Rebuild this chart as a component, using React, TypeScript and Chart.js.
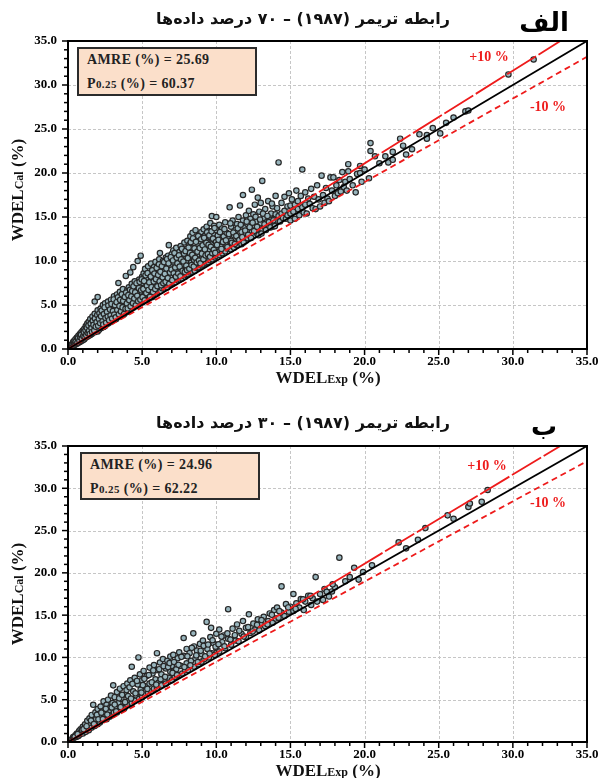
import React, { useEffect, useRef } from "react";
import { Chart, registerables } from "chart.js";

Chart.register(...registerables);

// Axis range shared by both panels (WDEL, %)
const AXIS_MIN = 0;
const AXIS_MAX = 35;
const MAJOR_STEP = 5;
const MINOR_STEP = 1;

// Reference lines: 1:1 line and the upper / lower error band
const identityLine: [number, number][] = [[0, 0], [35, 35]];
const upperLine: [number, number][] = [[0, 0], [33.2, 35]];
const lowerLine: [number, number][] = [[0, 0], [35, 33.2]];

// Panel titles and statistics
const titleA = "رابطه تریمر (۱۹۸۷) – ۷۰ درصد داده‌ها";
const titleB = "رابطه تریمر (۱۹۸۷) – ۳۰ درصد داده‌ها";
const panelLabelA = "الف";
const panelLabelB = "ب";
const amreA = "25.69";
const p25A = "60.37";
const amreB = "24.96";
const p25B = "62.22";

// Training subset (70 %): [WDEL_Exp, WDEL_Cal]
const pointsA: [number, number][] = [
  [0.1,0.1],[0.15,0.3],[0.2,0.2],[0.25,0.5],[0.3,0.3],[0.3,0.6],[0.35,0.8],[0.4,0.4],[0.4,0.9],[0.45,0.6],[0.5,0.5],[0.5,1.1],[0.55,0.8],[0.6,0.6],[0.6,1.3],[0.65,1.0],[0.7,0.7],[0.7,1.5],[0.75,1.2],[0.8,0.8],[0.8,1.7],[0.85,1.1],[0.9,0.9],[0.9,1.9],[0.95,1.4],[1.0,1.0],[1.0,2.1],[1.0,1.6],
  [1.1,1.1],[1.1,2.3],[1.15,1.7],[1.2,1.3],[1.2,2.6],[1.25,2.0],[1.3,1.4],[1.3,2.9],[1.35,2.3],[1.4,1.5],[1.4,3.1],[1.45,1.9],[1.5,1.6],[1.5,2.6],[1.5,3.4],[1.55,2.2],[1.6,1.7],[1.6,3.0],[1.65,3.7],[1.7,1.9],[1.7,2.5],[1.75,3.3],[1.8,1.9],[1.8,4.0],[1.85,2.8],[1.9,2.1],[1.9,3.6],[1.95,2.4],[2.0,2.0],[2.0,4.4],[2.0,3.1],[1.8,5.4],[2.0,5.9],
  [2.1,2.2],[2.1,3.8],[2.15,2.7],[2.2,4.6],[2.2,3.3],[2.25,2.4],[2.3,4.1],[2.3,2.9],[2.35,5.0],[2.4,2.5],[2.4,3.6],[2.45,4.4],[2.5,2.6],[2.5,3.1],[2.5,5.2],[2.55,3.9],[2.6,2.8],[2.6,4.7],[2.65,3.4],[2.7,2.9],[2.7,5.4],[2.75,4.2],[2.8,3.0],[2.8,3.7],[2.85,4.9],[2.9,3.1],[2.9,5.6],[2.95,4.4],[3.0,3.2],[3.0,3.9],[3.0,5.1],
  [3.05,3.3],[3.1,4.6],[3.1,6.0],[3.15,3.6],[3.2,5.4],[3.2,4.1],[3.25,3.4],[3.3,6.2],[3.3,4.8],[3.35,3.8],[3.4,5.7],[3.4,7.5],[3.45,4.3],[3.5,3.7],[3.5,5.1],[3.5,6.5],[3.55,4.0],[3.6,5.9],[3.6,4.6],[3.65,3.9],[3.7,6.8],[3.7,5.3],[3.75,4.2],[3.8,4.0],[3.8,6.2],[3.85,4.9],[3.9,8.3],[3.9,5.6],[3.95,4.3],[4.0,4.2],[4.0,6.7],[4.0,5.0],
  [4.05,5.8],[4.1,4.4],[4.1,7.0],[4.15,5.3],[4.2,8.7],[4.2,4.5],[4.25,6.3],[4.3,7.4],[4.3,4.9],[4.35,5.6],[4.4,9.3],[4.4,4.7],[4.45,6.8],[4.5,5.2],[4.5,7.7],[4.55,6.1],[4.6,4.9],[4.6,7.2],[4.65,5.6],[4.7,10.0],[4.7,6.6],[4.75,5.1],[4.8,7.9],[4.8,6.0],[4.85,5.3],[4.9,10.6],[4.9,7.0],[4.95,5.7],[5.0,5.3],[5.0,8.2],[5.0,6.4],
  [5.05,7.5],[5.1,5.4],[5.1,8.6],[5.15,6.1],[5.2,7.0],[5.2,9.1],[5.25,5.7],[5.3,8.0],[5.3,6.5],[5.35,5.6],[5.4,9.4],[5.4,7.3],[5.45,6.0],[5.5,8.5],[5.5,5.8],[5.55,6.9],[5.6,9.7],[5.6,7.8],[5.65,6.2],[5.7,5.9],[5.7,8.8],[5.75,7.1],[5.8,9.3],[5.8,6.4],[5.85,8.1],[5.9,6.2],[5.9,9.9],[5.95,7.5],[6.0,6.3],[6.0,8.6],[6.0,7.0],
  [6.05,9.4],[6.1,6.5],[6.1,8.0],[6.15,10.2],[6.2,10.9],[6.2,7.3],[6.25,6.6],[6.3,9.0],[6.3,8.3],[6.35,6.9],[6.4,10.0],[6.4,7.6],[6.45,8.8],[6.5,6.9],[6.5,9.6],[6.55,7.9],[6.6,10.4],[6.6,7.2],[6.65,8.6],[6.7,7.0],[6.7,9.3],[6.75,10.6],[6.8,11.8],[6.8,7.8],[6.85,8.9],[6.9,7.3],[6.9,10.1],[6.95,9.5],[7.0,7.4],[7.0,8.3],[7.0,10.8],
  [7.05,9.0],[7.1,7.5],[7.1,11.2],[7.15,9.8],[7.2,8.0],[7.2,10.4],[7.25,7.6],[7.3,11.5],[7.3,8.8],[7.35,9.5],[7.4,7.8],[7.4,10.8],[7.45,8.3],[7.5,11.0],[7.5,9.9],[7.55,7.9],[7.6,9.1],[7.6,11.7],[7.65,8.5],[7.7,10.3],[7.7,8.0],[7.75,11.2],[7.8,9.6],[7.8,8.4],[7.85,12.1],[7.9,10.6],[7.9,8.2],[7.95,9.1],[8.0,8.4],[8.0,11.4],[8.0,10.0],
  [8.05,12.3],[8.1,8.5],[8.1,9.4],[8.15,10.7],[8.2,11.9],[8.2,8.7],[8.25,12.8],[8.3,9.8],[8.3,10.4],[8.35,8.8],[8.4,11.5],[8.4,13.2],[8.45,9.2],[8.5,12.3],[8.5,10.1],[8.55,8.9],[8.6,13.5],[8.6,11.1],[8.65,9.6],[8.7,12.6],[8.7,9.2],[8.75,10.6],[8.8,11.8],[8.8,9.3],[8.85,13.0],[8.9,10.2],[8.9,9.6],[8.95,12.2],[9.0,9.5],[9.0,11.1],[9.0,13.3],
  [9.05,10.4],[9.1,12.5],[9.1,9.6],[9.15,13.6],[9.2,11.6],[9.2,10.0],[9.25,12.9],[9.3,9.8],[9.3,11.0],[9.35,13.9],[9.4,10.3],[9.4,12.2],[9.45,9.9],[9.5,13.4],[9.5,11.3],[9.55,10.1],[9.6,12.7],[9.6,14.3],[9.65,10.6],[9.7,15.1],[9.7,11.9],[9.75,10.2],[9.8,13.1],[9.8,10.9],[9.85,14.0],[9.9,10.4],[9.9,12.3],[9.95,11.5],[10.0,15.0],[10.0,10.6],[10.0,13.5],
  [10.1,11.0],[10.1,12.9],[10.2,10.7],[10.2,14.1],[10.3,11.6],[10.3,12.4],[10.4,10.9],[10.4,13.7],[10.5,11.3],[10.5,12.8],[10.6,11.1],[10.6,14.4],[10.7,11.8],[10.7,13.2],[10.8,11.4],[10.8,12.5],[10.9,16.1],[10.9,11.7],[11.0,13.9],[11.0,11.3],[11.0,12.3],
  [11.1,11.7],[11.1,14.6],[11.2,12.9],[11.2,11.5],[11.3,13.5],[11.3,12.1],[11.4,11.8],[11.4,14.2],[11.5,12.6],[11.5,15.0],[11.6,16.3],[11.6,12.2],[11.7,13.3],[11.7,11.9],[11.8,17.5],[11.8,14.6],[11.9,12.5],[11.9,13.8],[12.0,12.3],[12.0,15.2],[12.0,13.1],
  [12.1,12.6],[12.1,14.2],[12.2,13.5],[12.2,15.7],[12.3,12.8],[12.3,14.8],[12.4,18.1],[12.4,13.3],[12.5,12.9],[12.5,15.3],[12.6,14.0],[12.6,16.4],[12.7,13.2],[12.7,14.5],[12.8,17.2],[12.8,13.6],[12.9,15.6],[12.9,13.0],[13.0,14.3],[13.0,16.6],[13.0,13.4],
  [13.1,19.1],[13.1,13.6],[13.2,14.9],[13.3,13.8],[13.3,15.9],[13.4,14.4],[13.5,13.9],[13.5,16.8],[13.6,14.7],[13.7,14.1],[13.7,15.4],[13.8,16.2],[13.8,13.9],[13.9,14.8],[14.0,14.3],[14.0,17.4],[14.0,15.3],
  [14.1,14.6],[14.1,16.0],[14.2,21.2],[14.2,15.1],[14.3,14.5],[14.4,16.6],[14.4,15.4],[14.5,14.9],[14.6,17.3],[14.6,15.7],[14.7,14.8],[14.8,16.2],[14.8,15.2],[14.9,17.7],[15.0,15.4],[15.0,16.3],[15.0,14.6],
  [15.1,17.0],[15.2,15.6],[15.3,16.4],[15.3,14.8],[15.4,18.0],[15.5,15.9],[15.5,16.8],[15.6,15.2],[15.7,17.4],[15.8,20.4],[15.8,16.1],[15.9,15.5],[16.0,17.8],[16.0,16.4],
  [16.1,15.4],[16.2,17.1],[16.3,16.5],[16.4,18.2],[16.5,16.0],[16.6,17.3],[16.7,15.9],[16.8,18.6],[16.9,17.0],[17.0,16.2],[17.1,19.7],[17.2,17.5],[17.3,16.6],[17.4,18.3],[17.5,17.1],[17.6,16.8],[17.7,19.5],[17.8,18.0],[17.9,19.5],[18.0,17.4],
  [18.1,18.6],[18.2,17.7],[18.3,19.2],[18.4,17.9],[18.5,20.1],[18.6,18.4],[18.7,19.0],[18.8,18.0],[18.9,21.0],[18.9,20.2],[19.0,19.3],[19.2,18.6],[19.4,17.8],[19.5,19.9],[19.7,20.8],[19.7,20.0],[19.8,19.0],[20.0,20.4],
  [20.3,19.4],[20.4,23.4],[20.4,22.5],[20.7,21.9],[21.0,21.1],[21.4,21.9],[21.6,21.2],[21.9,22.4],[21.9,21.5],[22.4,23.9],[22.6,23.1],[22.8,22.1],[23.2,22.7],[23.7,24.4],[24.2,24.3],[24.2,23.9],[24.6,25.1],[25.1,24.5],[25.5,25.7],[26.0,26.3],[26.8,27.0],[27.0,27.1],[29.7,31.2],[31.4,32.9],
  [0.52,0.83],[0.63,0.71],[0.68,1.22],[0.77,0.95],[0.83,1.34],[0.88,1.62],[0.93,1.18],[1.03,1.47],[1.07,1.92],[1.12,1.38],[1.18,2.12],[1.23,1.55],[1.27,2.41],[1.33,1.83],[1.38,2.67],[1.42,2.05],[1.47,1.71],[1.53,2.88],[1.58,2.37],[1.62,1.94],[1.67,3.18],[1.72,2.74],[1.77,2.11],[1.82,3.47],[1.87,2.52],[1.93,3.05],[1.97,3.86],
  [2.03,2.64],[2.08,3.42],[2.12,4.05],[2.17,2.93],[2.23,3.71],[2.27,4.37],[2.33,3.15],[2.38,2.79],[2.42,3.98],[2.47,4.72],[2.53,3.51],[2.57,2.97],[2.63,4.21],[2.68,3.68],[2.72,4.93],[2.77,3.27],[2.83,4.48],[2.87,3.83],[2.93,5.12],[2.97,3.46],[3.03,4.31],[3.08,5.63],[3.12,3.92],[3.17,4.97],[3.22,3.61],[3.28,5.32],[3.32,4.42],[3.37,5.87],[3.43,3.95],[3.47,4.88],[3.52,5.58],[3.57,4.27],[3.63,6.21],[3.68,4.73],[3.72,5.46],[3.78,3.98],[3.83,5.91],[3.88,4.56],[3.92,6.42],[3.97,5.18],
  [4.03,4.61],[4.07,6.12],[4.13,5.54],[4.18,6.73],[4.22,4.86],[4.27,5.97],[4.33,6.58],[4.38,5.21],[4.42,7.12],[4.47,5.74],[4.53,6.43],[4.57,4.97],[4.62,7.48],[4.67,6.05],[4.73,5.42],[4.78,6.91],[4.83,7.63],[4.88,5.61],[4.93,6.67],[4.97,7.91],[5.03,5.89],[5.08,6.83],[5.13,7.72],[5.17,5.52],[5.23,8.37],[5.28,6.36],[5.32,7.19],[5.37,8.62],[5.43,6.71],[5.48,7.57],[5.53,5.92],[5.58,8.23],[5.63,7.02],[5.68,8.94],[5.73,6.47],[5.78,7.66],[5.83,8.58],[5.88,6.81],[5.93,7.94],[5.98,9.21],
  [6.03,7.13],[6.08,8.42],[6.13,9.63],[6.18,7.68],[6.23,8.77],[6.28,7.24],[6.33,9.41],[6.38,8.15],[6.43,7.47],[6.48,9.87],[6.53,8.53],[6.58,7.63],[6.63,9.14],[6.68,10.22],[6.73,8.07],[6.78,9.72],[6.83,7.41],[6.88,8.68],[6.93,10.43],[6.98,9.02],[7.03,7.82],[7.08,10.06],[7.13,8.61],[7.18,10.91],[7.23,9.27],[7.28,8.22],[7.33,10.37],[7.38,9.73],[7.43,8.57],[7.48,10.64],[7.53,9.36],[7.58,8.26],[7.63,10.18],[7.68,11.38],[7.73,8.87],[7.78,9.94],[7.83,10.83],[7.88,8.74],[7.93,11.12],[7.98,9.47],
  [8.03,8.96],[8.08,10.33],[8.13,11.52],[8.18,9.12],[8.23,10.92],[8.28,12.14],[8.33,9.54],[8.38,10.71],[8.43,12.56],[8.48,9.37],[8.53,11.43],[8.58,10.37],[8.63,12.18],[8.68,9.83],[8.73,11.06],[8.78,12.83],[8.83,10.04],[8.88,11.47],[8.93,9.74],[8.98,12.47],[9.03,10.83],[9.08,11.78],[9.13,10.21],[9.18,12.63],[9.23,11.31],[9.28,10.63],[9.33,12.07],[9.38,13.26],[9.43,10.78],[9.48,11.84],[9.53,12.91],[9.58,10.47],[9.63,11.62],[9.68,13.37],[9.73,10.88],[9.78,12.54],[9.83,11.27],[9.88,13.74],[9.93,10.92],[9.98,12.16],
  [10.05,11.83],[10.15,12.41],[10.25,13.28],[10.35,11.37],[10.45,12.17],[10.55,13.62],[10.65,12.35],[10.75,11.58],[10.85,13.06],[10.95,14.27],[11.05,12.07],[11.15,13.24],[11.25,11.92],[11.35,12.83],[11.45,13.71],[11.55,12.38],[11.65,14.12],[11.75,12.71],[11.85,12.09],[11.95,13.46],[12.05,14.47],[12.15,12.97],[12.25,13.84],[12.35,12.62],[12.45,14.36],[12.55,13.41],[12.65,15.03],[12.75,13.88],[12.85,12.93],[12.95,14.71],[13.05,13.12],[13.15,15.38],[13.25,14.17],[13.35,13.52],[13.45,15.12],[13.55,14.43],[13.65,13.81],[13.75,16.53],[13.85,14.62],[13.95,13.96],
];

// Testing subset (30 %): [WDEL_Exp, WDEL_Cal]
const pointsB: [number, number][] = [
  [0.1,0.1],[0.2,0.3],[0.3,0.3],[0.35,0.6],[0.4,0.5],[0.5,0.8],[0.55,0.6],[0.6,1.0],[0.7,0.7],[0.75,1.3],[0.8,0.9],[0.85,1.5],[0.9,1.1],[1.0,1.0],[1.0,1.8],
  [1.1,1.3],[1.15,2.1],[1.2,1.2],[1.3,2.5],[1.35,1.6],[1.4,1.4],[1.45,2.8],[1.5,2.0],[1.6,1.7],[1.6,3.2],[1.7,4.4],[1.7,2.4],[1.8,1.9],[1.85,3.5],[1.9,2.7],[2.0,2.1],[2.0,3.9],
  [2.1,3.1],[2.15,2.3],[2.2,4.2],[2.3,2.6],[2.3,3.6],[2.4,4.8],[2.45,2.8],[2.5,3.3],[2.6,4.4],[2.6,2.7],[2.7,5.0],[2.75,3.7],[2.8,3.0],[2.85,4.1],[2.9,5.5],[3.0,3.2],[3.0,4.6],
  [3.05,6.7],[3.1,3.5],[3.15,5.3],[3.2,4.0],[3.3,5.9],[3.3,3.5],[3.4,4.6],[3.5,6.3],[3.5,3.8],[3.6,5.1],[3.7,4.2],[3.75,6.6],[3.8,4.0],[3.9,5.6],[4.0,4.4],[4.0,6.9],
  [4.1,5.0],[4.2,7.3],[4.3,8.9],[4.3,4.6],[4.4,6.0],[4.5,7.6],[4.5,4.9],[4.6,5.5],[4.7,6.8],[4.75,10.0],[4.8,5.1],[4.85,8.0],[4.9,6.2],[5.0,5.3],[5.0,7.3],
  [5.1,8.4],[5.2,5.6],[5.2,6.6],[5.3,7.8],[5.4,5.8],[5.5,8.8],[5.5,6.9],[5.6,6.0],[5.7,8.1],[5.8,6.3],[5.8,9.1],[5.9,7.4],[6.0,10.5],[6.0,6.4],[6.0,8.5],
  [6.1,7.0],[6.2,9.4],[6.3,6.7],[6.3,8.0],[6.4,9.8],[6.5,7.3],[6.6,8.7],[6.6,6.9],[6.7,9.6],[6.8,7.6],[6.9,8.3],[6.9,10.1],[7.0,7.3],[7.0,9.0],
  [7.1,10.3],[7.2,7.7],[7.3,8.6],[7.4,9.9],[7.5,7.9],[7.5,10.6],[7.6,9.0],[7.7,8.1],[7.8,12.3],[7.8,10.2],[7.9,8.5],[8.0,11.0],[8.0,9.3],
  [8.1,8.5],[8.2,10.5],[8.3,9.6],[8.45,12.85],[8.5,8.9],[8.5,11.3],[8.6,9.9],[8.7,10.8],[8.8,9.2],[8.9,11.6],[9.0,9.5],[9.0,10.4],
  [9.1,12.0],[9.2,9.8],[9.35,14.2],[9.4,11.0],[9.5,10.0],[9.6,12.4],[9.65,13.5],[9.7,10.5],[9.8,11.7],[9.9,10.3],[10.0,12.8],[10.0,11.1],
  [10.2,13.3],[10.2,10.7],[10.4,11.8],[10.5,12.6],[10.6,11.1],[10.8,15.7],[10.8,12.2],[11.0,11.5],[11.1,13.4],[11.3,12.0],[11.4,13.9],[11.5,11.9],[11.7,12.8],[11.8,14.3],[12.0,12.4],[12.0,13.5],
  [12.2,15.1],[12.3,12.9],[12.5,14.0],[12.6,13.3],[12.8,14.5],[12.9,13.2],[13.0,13.9],[13.2,14.8],[13.3,13.7],[13.5,14.3],[13.6,15.2],[13.8,14.1],[13.9,15.6],[14.0,14.6],
  [14.1,15.9],[14.2,14.7],[14.4,18.4],[14.4,15.3],[14.6,14.9],[14.7,16.3],[14.9,15.4],[15.0,16.0],[15.2,17.5],[15.2,15.5],[15.4,16.4],[15.6,15.9],[15.7,16.9],[15.9,15.6],[16.0,16.6],
  [16.2,17.3],[16.4,16.2],[16.5,17.0],[16.7,19.5],[16.8,16.6],[17.0,17.5],[17.2,16.8],[17.3,18.1],[17.6,17.2],[17.8,17.8],[18.0,18.3],[18.3,21.8],
  [18.7,19.0],[19.0,19.5],[19.3,20.6],[19.6,19.2],[19.9,20.1],[20.5,20.9],[22.3,23.6],[22.8,22.9],[23.6,23.9],[24.1,25.3],[25.6,26.8],[26.0,26.4],[27.0,27.8],[27.1,28.2],[27.9,28.4],[28.3,29.8],
  [0.45,0.62],[0.65,0.93],[0.95,1.41],[1.05,1.52],[1.25,1.87],[1.55,2.53],[1.75,2.12],[1.95,3.21],[2.05,2.68],[2.25,3.47],[2.35,2.71],[2.55,3.92],[2.65,3.24],[2.95,4.08],[3.15,4.43],[3.25,3.62],[3.45,5.17],[3.55,4.12],[3.65,5.58],[3.85,4.71],
  [3.95,6.14],[4.05,5.43],[4.15,6.47],[4.25,5.13],[4.35,6.88],[4.55,5.76],[4.65,7.22],[4.95,5.84],[5.05,6.72],[5.15,7.47],[5.35,6.28],[5.45,7.91],[5.65,7.06],[5.75,8.46],[5.95,6.78],[6.15,8.61],[6.25,7.42],[6.45,8.97],[6.55,7.71],[6.75,8.86],
  [6.85,9.33],[7.05,8.17],[7.15,9.46],[7.35,7.92],[7.45,9.12],[7.65,10.07],[7.85,8.86],[8.05,10.13],[8.25,9.07],[8.35,11.13],[8.65,10.24],[8.75,9.46],[8.95,10.78],[9.15,11.37],[9.25,10.12],[9.45,11.52],[9.55,10.46],[9.75,12.03],[9.95,11.27],[10.15,11.56],
  [10.35,12.46],[10.55,11.32],[10.75,12.84],[10.95,12.12],[11.25,12.63],[11.55,13.14],[11.85,12.47],[12.15,13.58],[12.45,13.07],[12.75,13.86],[13.05,14.42],[13.45,13.92],[13.75,15.04],[14.25,15.47],[14.85,15.91],[15.35,15.73],[15.85,16.87],[16.35,17.28],[17.45,17.76],[17.85,18.64],
];

const SERIF = '"Liberation Serif", "Times New Roman", serif';
const PERSIAN = '"DejaVu Sans", "Noto Sans", sans-serif';
const RED = "#ee1b1b";

const toXY = (pts: [number, number][]) => pts.map(([x, y]) => ({ x, y }));

// Grid, frame and minor/major tick marks drawn around the plot area
const framePlugin = {
  id: "frameAndTicks",
  beforeDatasetsDraw(chart: any) {
    const { ctx, chartArea: a, scales } = chart;
    const xs = scales.x;
    const ys = scales.y;
    ctx.save();
    ctx.strokeStyle = "#c6c6c6";
    ctx.lineWidth = 1;
    ctx.setLineDash([3, 2]);
    for (let v = AXIS_MIN + MAJOR_STEP; v < AXIS_MAX; v += MAJOR_STEP) {
      const px = Math.round(xs.getPixelForValue(v)) + 0.5;
      ctx.beginPath();
      ctx.moveTo(px, a.top);
      ctx.lineTo(px, a.bottom);
      ctx.stroke();
      const py = Math.round(ys.getPixelForValue(v)) + 0.5;
      ctx.beginPath();
      ctx.moveTo(a.left, py);
      ctx.lineTo(a.right, py);
      ctx.stroke();
    }
    ctx.restore();
  },
  afterDatasetsDraw(chart: any) {
    const { ctx, chartArea: a, scales } = chart;
    const xs = scales.x;
    const ys = scales.y;
    ctx.save();
    ctx.strokeStyle = "#000";
    ctx.setLineDash([]);
    ctx.lineWidth = 1.5;
    for (let v = AXIS_MIN; v <= AXIS_MAX; v += MINOR_STEP) {
      const len = v % MAJOR_STEP === 0 ? 6 : 4;
      const px = xs.getPixelForValue(v);
      ctx.beginPath();
      ctx.moveTo(px, a.bottom);
      ctx.lineTo(px, a.bottom + len);
      ctx.stroke();
      const py = ys.getPixelForValue(v);
      ctx.beginPath();
      ctx.moveTo(a.left, py);
      ctx.lineTo(a.left - len, py);
      ctx.stroke();
    }
    ctx.lineWidth = 2;
    ctx.strokeRect(a.left, a.top, a.right - a.left, a.bottom - a.top);
    ctx.restore();
  },
};

type PanelProps = {
  top: number;
  height: number;
  plotTop: number;
  plotBottom: number;
  points: [number, number][];
};

function ScatterCanvas({ top, height, plotTop, plotBottom, points }: PanelProps) {
  const ref = useRef<HTMLCanvasElement | null>(null);

  useEffect(() => {
    if (!ref.current) return;
    const tickFont = { family: SERIF, weight: "bold" as const, size: 13 };
    const chart = new Chart(ref.current, {
      type: "scatter",
      data: {
        datasets: [
          {
            data: toXY(identityLine),
            showLine: true,
            borderColor: "#000",
            borderWidth: 1.8,
            pointRadius: 0,
            order: 0,
          },
          {
            data: toXY(upperLine),
            showLine: true,
            borderColor: RED,
            borderWidth: 1.8,
            borderDash: [34, 3],
            pointRadius: 0,
            order: 1,
          },
          {
            data: toXY(lowerLine),
            showLine: true,
            borderColor: RED,
            borderWidth: 1.8,
            borderDash: [6, 4],
            pointRadius: 0,
            order: 2,
          },
          {
            data: toXY(points),
            showLine: false,
            pointRadius: 2.7,
            pointBackgroundColor: "#98b5bd",
            pointBorderColor: "#262626",
            pointBorderWidth: 1.2,
            order: 10,
          },
        ],
      },
      options: {
        responsive: false,
        animation: false,
        events: [],
        layout: { padding: { top: plotTop, right: 12, left: 0, bottom: 0 } },
        plugins: { legend: { display: false }, tooltip: { enabled: false }, title: { display: false } },
        scales: {
          x: {
            type: "linear",
            min: AXIS_MIN,
            max: AXIS_MAX,
            grid: { display: false, drawTicks: false },
            border: { display: false },
            ticks: {
              stepSize: MAJOR_STEP,
              autoSkip: false,
              maxRotation: 0,
              padding: 5,
              color: "#000",
              font: tickFont,
              callback: (v: any) => Number(v).toFixed(1),
            },
            afterFit: (s: any) => {
              s.height = height - plotBottom;
              s.paddingLeft = 0;
              s.paddingRight = 0;
            },
          },
          y: {
            type: "linear",
            min: AXIS_MIN,
            max: AXIS_MAX,
            grid: { display: false, drawTicks: false },
            border: { display: false },
            ticks: {
              stepSize: MAJOR_STEP,
              padding: 11,
              color: "#000",
              font: tickFont,
              callback: (v: any) => Number(v).toFixed(1),
            },
            afterFit: (s: any) => {
              s.width = 68;
              s.paddingTop = 0;
              s.paddingBottom = 0;
            },
          },
        },
      },
      plugins: [framePlugin],
    });
    return () => chart.destroy();
  }, [height, plotTop, plotBottom, points]);

  return (
    <canvas
      ref={ref}
      width={599}
      height={height}
      style={{ position: "absolute", left: 0, top, width: 599, height }}
    />
  );
}

type OverlayProps = {
  top: number;
  title: string;
  label: string;
  amre: string;
  p25: string;
  box: { left: number; top: number; width: number; height: number };
  plusPos: [number, number];
  minusPos: [number, number];
  yTitleY: number;
  xTitleY: number;
};

function centered(x: number, y: number): React.CSSProperties {
  return { position: "absolute", left: x, top: y, transform: "translate(-50%, -50%)", whiteSpace: "nowrap" };
}

function Overlay({ top, title, label, amre, p25, box, plusPos, minusPos, yTitleY, xTitleY }: OverlayProps) {
  const big = { fontFamily: SERIF, fontWeight: 700, fontSize: 17, color: "#111" } as React.CSSProperties;
  const small = { fontSize: 12 };
  return (
    <>
      <div dir="rtl" style={{ ...centered(303, top + 18), fontFamily: PERSIAN, fontWeight: 700, fontSize: 16, color: "#111" }}>
        {title}
      </div>
      <div dir="rtl" style={{ ...centered(544, top + 22), fontFamily: PERSIAN, fontWeight: 700, fontSize: 26, color: "#000" }}>
        {label}
      </div>
      <div
        style={{
          position: "absolute",
          left: box.left,
          top: box.top,
          width: box.width,
          height: box.height,
          boxSizing: "border-box",
          background: "#fbdfca",
          border: "2px solid #2b2b2b",
          fontFamily: SERIF,
          fontWeight: 700,
          fontSize: 14,
          letterSpacing: 0.4,
          color: "#222",
        }}
      >
        <div style={{ position: "absolute", left: 8, top: 3 }}>AMRE (%) = {amre}</div>
        <div style={{ position: "absolute", left: 8, top: 27 }}>
          P<span style={{ fontSize: 11 }}>0.25</span> (%) = {p25}
        </div>
      </div>
      <div style={{ ...centered(plusPos[0], plusPos[1]), fontFamily: SERIF, fontWeight: 700, fontSize: 14, color: RED }}>+10 %</div>
      <div style={{ ...centered(minusPos[0], minusPos[1]), fontFamily: SERIF, fontWeight: 700, fontSize: 14, color: RED }}>-10 %</div>
      <div style={{ ...centered(18, yTitleY), transform: "translate(-50%, -50%) rotate(-90deg)", ...big }}>
        WDEL<span style={small}>Cal</span> (%)
      </div>
      <div style={{ ...centered(328, xTitleY), ...big }}>
        WDEL<span style={small}>Exp</span> (%)
      </div>
    </>
  );
}

export default function App() {
  return (
    <div style={{ position: "absolute", left: 0, top: 0, width: 599, height: 778, background: "#fff", overflow: "hidden" }}>
      <ScatterCanvas top={0} height={390} plotTop={41} plotBottom={349} points={pointsA} />
      <ScatterCanvas top={390} height={388} plotTop={56} plotBottom={352} points={pointsB} />
      <Overlay
        top={0}
        title={titleA}
        label={panelLabelA}
        amre={amreA}
        p25={p25A}
        box={{ left: 77, top: 47, width: 180, height: 49 }}
        plusPos={[489, 57]}
        minusPos={[548, 107]}
        yTitleY={190}
        xTitleY={378}
      />
      <Overlay
        top={404}
        title={titleB}
        label={panelLabelB}
        amre={amreB}
        p25={p25B}
        box={{ left: 80, top: 452, width: 180, height: 48 }}
        plusPos={[487, 466]}
        minusPos={[548, 503]}
        yTitleY={594}
        xTitleY={771}
      />
    </div>
  );
}
